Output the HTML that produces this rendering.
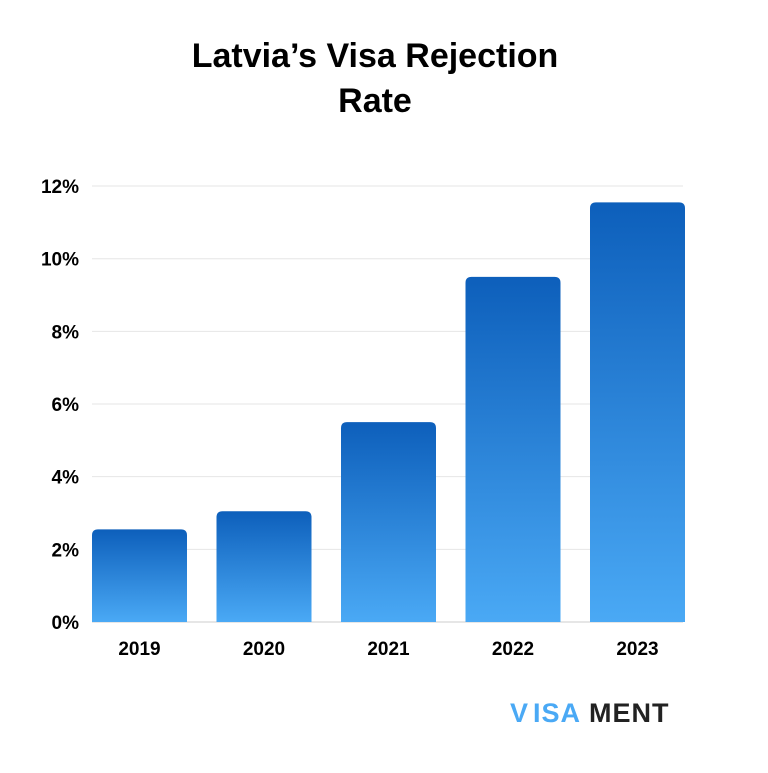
<!DOCTYPE html>
<html><head><meta charset="utf-8"><style>
body{margin:0;background:#fff;width:768px;height:768px;overflow:hidden;font-family:"Liberation Sans",sans-serif}
</style></head><body>
<svg id="chart" width="768" height="768" xmlns="http://www.w3.org/2000/svg">
<defs><linearGradient id="g" x1="0" y1="0" x2="0" y2="1"><stop offset="0" stop-color="#0d5fbb"/><stop offset="1" stop-color="#4aa9f5"/></linearGradient></defs>
<text x="375" y="67" text-anchor="middle" font-size="34" font-weight="bold" fill="#000">Latvia’s Visa Rejection</text>
<text x="375" y="112" text-anchor="middle" font-size="34" font-weight="bold" fill="#000">Rate</text>
<g id="grid"></g><g id="bars"></g><g id="xl"></g>
<g>
<text x="510" y="722" font-size="27" font-weight="bold" fill="#4aa9f5" letter-spacing="1">V</text>
<text x="533" y="722" font-size="27" font-weight="bold" fill="#4aa9f5" letter-spacing="1">ISA</text>
<text x="589" y="722" font-size="27" font-weight="bold" fill="#222" letter-spacing="1">MENT</text>
</g>
</svg>
<script>
const categories=["2019","2020","2021","2022","2023"];
const values=[2.55,3.05,5.5,9.5,11.55];
const ticks=[0,2,4,6,8,10,12];
const ns="http://www.w3.org/2000/svg";
const y=v=>622-v*36.33;
const x=i=>92+i*124.5;
const bw=95;
const grid=document.getElementById('grid'),bars=document.getElementById('bars'),xl=document.getElementById('xl');
ticks.forEach(t=>{
 const l=document.createElementNS(ns,'line');
 
 
 l.setAttribute('x1',92);l.setAttribute('x2',683);l.setAttribute('y1',y(t));l.setAttribute('y2',y(t));
 l.setAttribute('stroke',t===0?'#ccc':'#e6e6e6');grid.appendChild(l);
 const tx=document.createElementNS(ns,'text');
 
 
 tx.setAttribute('x',79);tx.setAttribute('y',y(t)+7);tx.setAttribute('text-anchor','end');
 tx.setAttribute('font-size','19');tx.setAttribute('font-weight','bold');tx.textContent=t+'%';grid.appendChild(tx);
});
values.forEach((v,i)=>{
 const h=622-y(v),r=6;
 const p=document.createElementNS(ns,'path');
 
 
 const X=x(i),Y=y(v);
 p.setAttribute('d',`M${X},622 V${Y+r} Q${X},${Y} ${X+r},${Y} H${X+bw-r} Q${X+bw},${Y} ${X+bw},${Y+r} V622 Z`);
 p.setAttribute('fill','url(#g)');bars.appendChild(p);
 const t=document.createElementNS(ns,'text');
 
 
 t.setAttribute('x',X+bw/2);t.setAttribute('y',655);t.setAttribute('text-anchor','middle');
 t.setAttribute('font-size','19');t.setAttribute('font-weight','bold');t.textContent=categories[i];xl.appendChild(t);
});
</script>
</body></html>
